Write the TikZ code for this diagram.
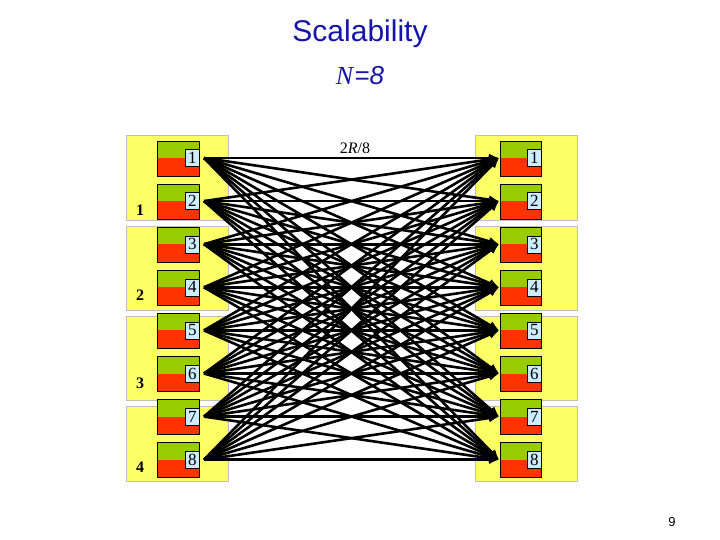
\documentclass[tikz,border=0pt]{standalone}
\usepackage{fontspec}
\setmainfont{Liberation Serif}
\newfontfamily\sansf{Liberation Sans}
\usetikzlibrary{arrows.meta}
\definecolor{ttl}{RGB}{20,20,170}
\definecolor{blk}{RGB}{255,255,102}
\definecolor{grn}{RGB}{153,204,0}
\definecolor{rd}{RGB}{255,51,0}
\definecolor{lbl}{RGB}{204,236,255}
\tikzset{
 blkbox/.style={fill=blk,draw=black!25,line width=0.8pt},
 num/.style={font=\fontsize{16}{16}\selectfont\bfseries},
 plab/.style={draw=black,fill=lbl,inner sep=0.5pt,minimum width=14pt,minimum height=17pt,font=\fontsize{17}{17}\selectfont},
 link/.style={line width=2.6pt,-{Latex[length=10pt,width=9pt]}}
}
\begin{document}
\begin{tikzpicture}[x=1pt,y=-1pt]
\useasboundingbox (0,0) rectangle (720,540);
\node[font=\sansf\fontsize{30}{30}\selectfont,text=ttl] (title) at (360,34) {Scalability};
\node[font=\fontsize{26}{26}\selectfont,text=ttl] (nn) at (360,76) {\textit{N}{\sansf\itshape =8}};
\node[font=\fontsize{16}{16}\selectfont] (rate) at (355,148) {2\textit{R}/8};
\node[font=\sansf\fontsize{13}{13}\selectfont] (pg) at (672,522) {9};
\foreach \i/\a/\b in {1/135/220,2/226/310,3/316/400,4/406/481}{
  \path[blkbox] (126,\a) rectangle (228,\b);
  \path[blkbox] (475,\a) rectangle (577,\b);
}
\foreach \i/\y in {1/210,2/295,3/383,4/467}{
  \node[num] (bl\i) at (140,\y) {\i};
}
\foreach \i in {1,...,8}{
  \pgfmathsetmacro\yy{158+43.1*(\i-1)}
  \fill[grn] (157,\yy-17) rectangle (199,\yy);
  \fill[rd] (157,\yy) rectangle (199,\yy+18);
  \draw[line width=0.6pt] (157,\yy-17) rectangle (199,\yy+18);
  \node[plab,anchor=east] (L\i) at (199.5,\yy) {\i};
  \coordinate (Lout\i) at (204,\yy);
  \fill[grn] (500,\yy-17) rectangle (541,\yy);
  \fill[rd] (500,\yy) rectangle (541,\yy+18);
  \draw[line width=0.6pt] (500,\yy-17) rectangle (541,\yy+18);
  \node[plab,anchor=east] (R\i) at (541.5,\yy) {\i};
  \coordinate (Rin\i) at (499,\yy);
}
\foreach \i in {1,...,8}{
  \foreach \j in {1,...,8}{
    \draw[link] (Lout\i) -- (Rin\j);
  }
}
\end{tikzpicture}
\end{document}
